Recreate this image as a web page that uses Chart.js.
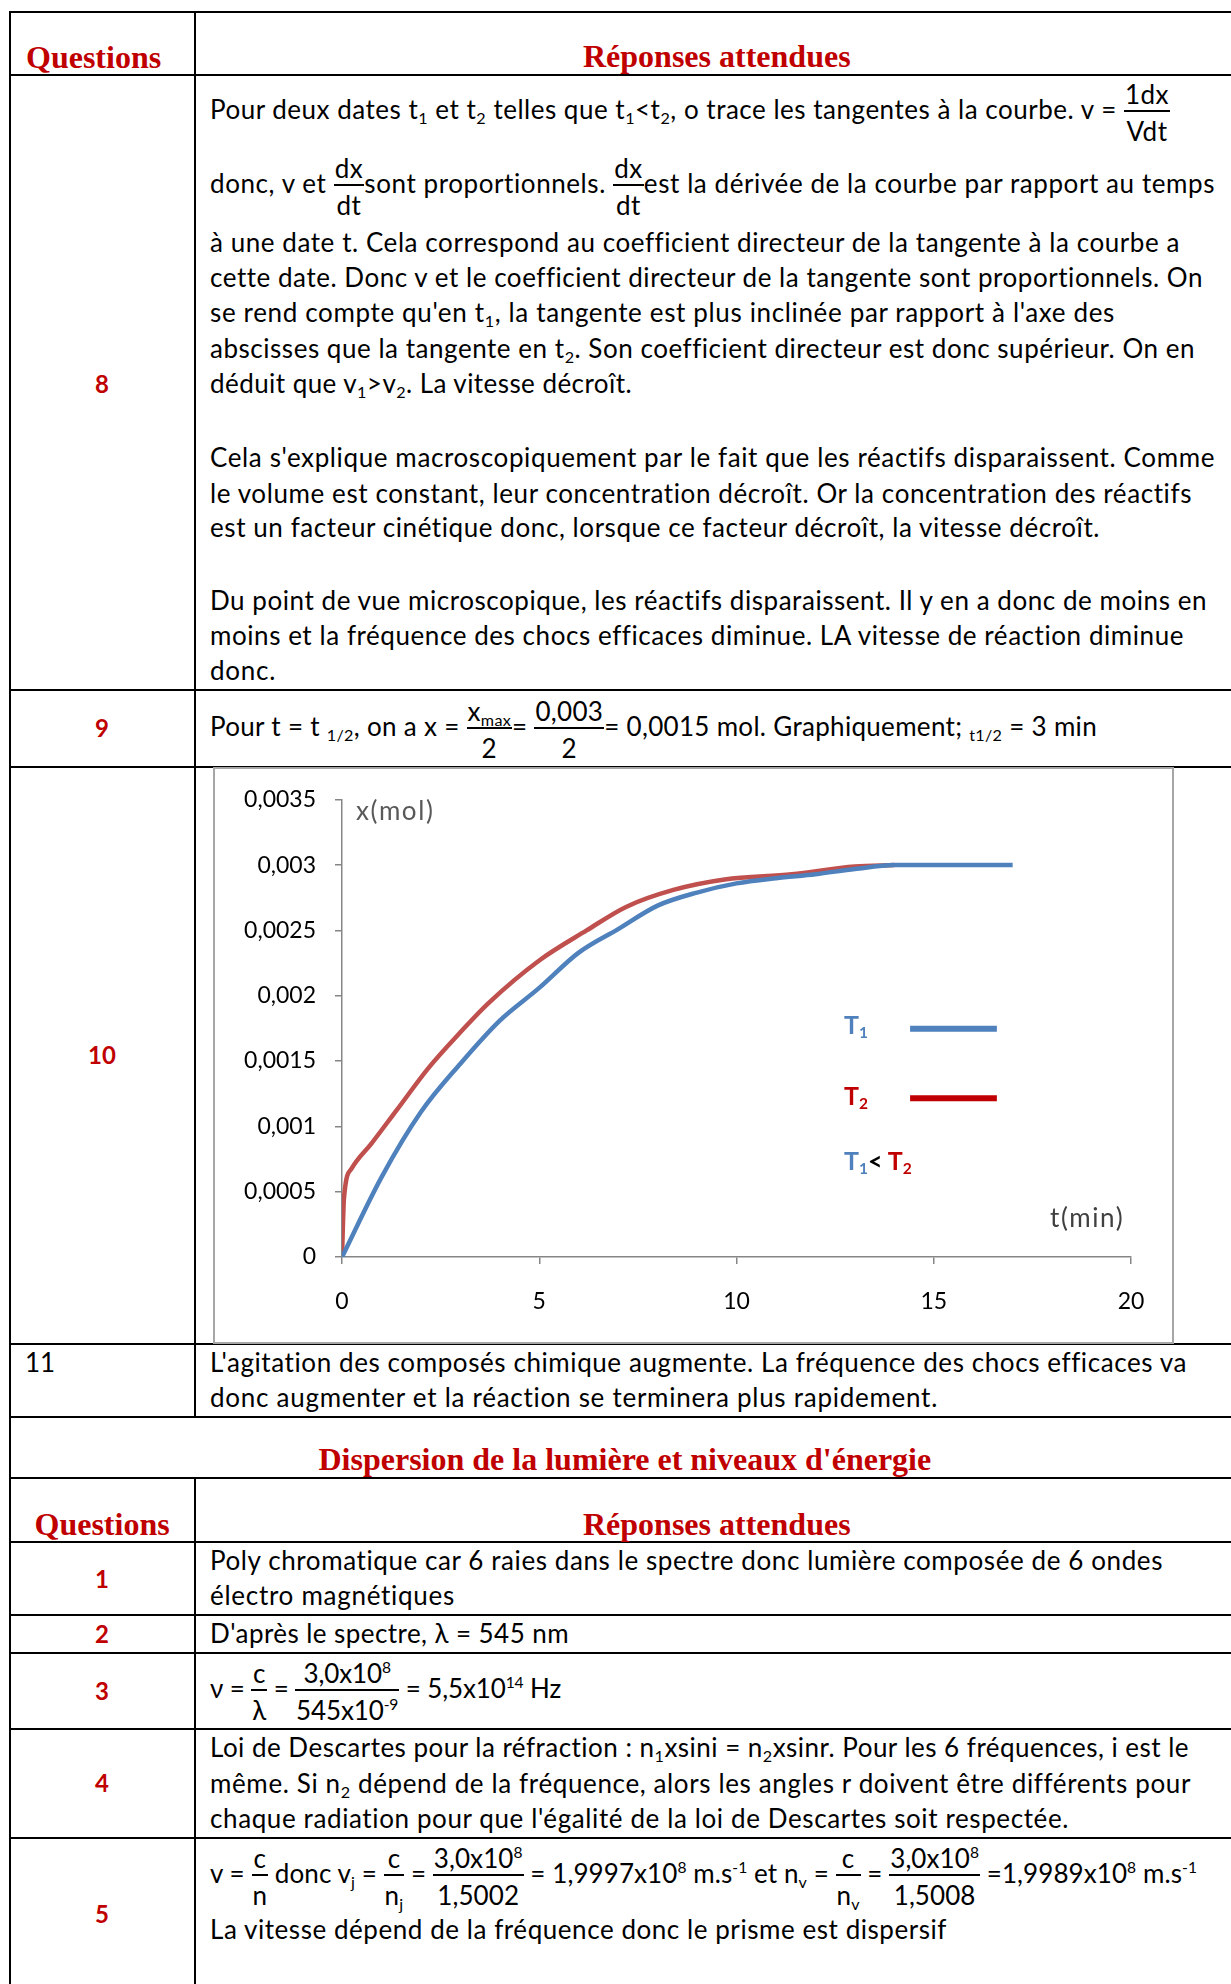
<!DOCTYPE html>
<html><head><meta charset="utf-8">
<script src="https://cdn.jsdelivr.net/npm/chart.js@4.4.0/dist/chart.umd.min.js"></script>
<style>
html,body{margin:0;padding:0;background:#fff;}
#page{position:relative;width:1231px;height:1984px;overflow:hidden;background:#fff;font-family:Lato,"Open Sans",sans-serif;color:#000;}
.h{position:absolute;height:2px;background:#000;left:9px;width:1240px}
.v{position:absolute;width:2px;background:#000}
.ln{position:absolute;white-space:nowrap;font-size:26px;line-height:32px;left:210px}
.hd{position:absolute;white-space:nowrap;font-family:"Liberation Serif","DejaVu Serif",serif;font-weight:bold;font-size:32px;line-height:36px;color:#C00000}
.qn{position:absolute;white-space:nowrap;font-size:24px;line-height:30px;font-weight:bold;color:#C00000}
.sb{font-size:0.62em;vertical-align:-0.28em;line-height:0}
.sp{font-size:0.6em;vertical-align:0.62em;line-height:0}
.fr{display:inline-flex;flex-direction:column;align-items:center;vertical-align:middle;margin:-40px 0;}
.fr .n{line-height:32px;padding:0 1px}
.fr .bar{align-self:stretch;height:1.5px;background:#000}
.fr .d{line-height:32px;padding:3px 1px 0 1px}
.bm{display:inline-block;width:0;height:0;vertical-align:baseline}
#frame{position:absolute;left:213px;top:767px;width:961px;height:577px;border:2px solid #a6a6a6;box-sizing:border-box;pointer-events:none}
#cv{position:absolute;left:213px;top:767px}
.ct{position:absolute;white-space:nowrap;font-size:26px;line-height:30px;letter-spacing:1.6px;color:#404040}
.lg{position:absolute;white-space:nowrap;font-size:25px;line-height:30px;font-weight:bold}
</style>
</head>
<body>
<div id="page">
  <!-- table borders -->
  <div class="h" style="top:11px"></div>
  <div class="h" style="top:74px"></div>
  <div class="h" style="top:689px"></div>
  <div class="h" style="top:766px"></div>
  <div class="h" style="top:1343px"></div>
  <div class="h" style="top:1416px"></div>
  <div class="h" style="top:1477px"></div>
  <div class="h" style="top:1541px"></div>
  <div class="h" style="top:1614px"></div>
  <div class="h" style="top:1652px"></div>
  <div class="h" style="top:1728px"></div>
  <div class="h" style="top:1837px"></div>
  <div class="v" style="left:9px;top:11px;height:1980px"></div>
  <div class="v" style="left:194px;top:11px;height:1406px"></div>
  <div class="v" style="left:194px;top:1477px;height:510px"></div>

  <!-- headers -->
  <div class="hd" data-b="68" style="left:26px">Questions</div>
  <div class="hd" data-b="67" data-c="717">Réponses attendues</div>
  <div class="hd" data-b="1470" data-c="625">Dispersion de la lumière et niveaux d'énergie</div>
  <div class="hd" data-b="1535" data-c="102">Questions</div>
  <div class="hd" data-b="1535" data-c="717">Réponses attendues</div>

  <!-- question numbers -->
  <div class="qn" data-b="393" data-c="102">8</div>
  <div class="qn" data-b="737" data-c="102">9</div>
  <div class="qn" data-b="1064" data-c="102">10</div>
  <div class="ln" data-b="1372" style="left:25px">11</div>
  <div class="qn" data-b="1588" data-c="102">1</div>
  <div class="qn" data-b="1643" data-c="102">2</div>
  <div class="qn" data-b="1700" data-c="102">3</div>
  <div class="qn" data-b="1792" data-c="102">4</div>
  <div class="qn" data-b="1923" data-c="102">5</div>

  <!-- row 8 -->
  <div class="ln" data-b="119" data-r="1170">Pour deux dates t<span class="sb">1</span> et t<span class="sb">2</span> telles que t<span class="sb">1</span>&lt;t<span class="sb">2</span>, o trace les tangentes à la courbe. v = <span class="fr"><span class="n">1dx</span><span class="bar"></span><span class="d">Vdt</span></span></div>
  <div class="ln" data-b="193" data-r="1215">donc, v et <span class="fr"><span class="n">dx</span><span class="bar"></span><span class="d">dt</span></span>sont proportionnels. <span class="fr"><span class="n">dx</span><span class="bar"></span><span class="d">dt</span></span>est la dérivée de la courbe par rapport au temps</div>
  <div class="ln" data-b="252" data-r="1180">à une date t. Cela correspond au coefficient directeur de la tangente à la courbe a</div>
  <div class="ln" data-b="287" data-r="1203">cette date. Donc v et le coefficient directeur de la tangente sont proportionnels. On</div>
  <div class="ln" data-b="322" data-r="1115">se rend compte qu'en t<span class="sb">1</span>, la tangente est plus inclinée par rapport à l'axe des</div>
  <div class="ln" data-b="358" data-r="1195">abscisses que la tangente en t<span class="sb">2</span>. Son coefficient directeur est donc supérieur. On en</div>
  <div class="ln" data-b="393" data-r="632">déduit que v<span class="sb">1</span>&gt;v<span class="sb">2</span>. La vitesse décroît.</div>
  <div class="ln" data-b="467" data-r="1215">Cela s'explique macroscopiquement par le fait que les réactifs disparaissent. Comme</div>
  <div class="ln" data-b="503" data-r="1192">le volume est constant, leur concentration décroît. Or la concentration des réactifs</div>
  <div class="ln" data-b="537" data-r="1100">est un facteur cinétique donc, lorsque ce facteur décroît, la vitesse décroît.</div>
  <div class="ln" data-b="610" data-r="1207">Du point de vue microscopique, les réactifs disparaissent. Il y en a donc de moins en</div>
  <div class="ln" data-b="645" data-r="1184">moins et la fréquence des chocs efficaces diminue. LA vitesse de réaction diminue</div>
  <div class="ln" data-b="680" data-r="276">donc.</div>

  <!-- row 9 -->
  <div class="ln" data-b="736" data-r="1097">Pour t = t <span class="sb">1/2</span>, on a x = <span class="fr"><span class="n">x<span class="sb">max</span></span><span class="bar"></span><span class="d">2</span></span>= <span class="fr"><span class="n">0,003</span><span class="bar"></span><span class="d">2</span></span>= 0,0015 mol. Graphiquement; <span class="sb">t1/2</span> = 3 min</div>

  <!-- row 11 -->
  <div class="ln" data-b="1372" data-r="1187">L'agitation des composés chimique augmente. La fréquence des chocs efficaces va</div>
  <div class="ln" data-b="1407" data-r="938">donc augmenter et la réaction se terminera plus rapidement.</div>

  <!-- dispersion rows -->
  <div class="ln" data-b="1570" data-r="1163">Poly chromatique car 6 raies dans le spectre donc lumière composée de 6 ondes</div>
  <div class="ln" data-b="1605" data-r="455">électro magnétiques</div>
  <div class="ln" data-b="1643" data-r="569">D'après le spectre, λ = 545 nm</div>
  <div class="ln" data-b="1698" data-r="561">ν = <span class="fr"><span class="n">c</span><span class="bar"></span><span class="d">λ</span></span> = <span class="fr"><span class="n">3,0x10<span class="sp">8</span></span><span class="bar"></span><span class="d">545x10<span class="sp">-9</span></span></span> = 5,5x10<span class="sp">14</span> Hz</div>
  <div class="ln" data-b="1757" data-r="1189">Loi de Descartes pour la réfraction : n<span class="sb">1</span>xsini = n<span class="sb">2</span>xsinr. Pour les 6 fréquences, i est le</div>
  <div class="ln" data-b="1793" data-r="1191">même. Si n<span class="sb">2</span> dépend de la fréquence, alors les angles r doivent être différents pour</div>
  <div class="ln" data-b="1828" data-r="1069">chaque radiation pour que l'égalité de la loi de Descartes soit respectée.</div>
  <div class="ln" data-b="1883" data-r="1197">v = <span class="fr"><span class="n">c</span><span class="bar"></span><span class="d">n</span></span> donc v<span class="sb">j</span> = <span class="fr"><span class="n">c</span><span class="bar"></span><span class="d">n<span class="sb">j</span></span></span> = <span class="fr"><span class="n">3,0x10<span class="sp">8</span></span><span class="bar"></span><span class="d">1,5002</span></span> = 1,9997x10<span class="sp">8</span> m.s<span class="sp">-1</span> et n<span class="sb">v</span> = <span class="fr"><span class="n">c</span><span class="bar"></span><span class="d">n<span class="sb">v</span></span></span> = <span class="fr"><span class="n">3,0x10<span class="sp">8</span></span><span class="bar"></span><span class="d">1,5008</span></span> =1,9989x10<span class="sp">8</span> m.s<span class="sp">-1</span></div>
  <div class="ln" data-b="1939" data-r="947">La vitesse dépend de la fréquence donc le prisme est dispersif</div>

  <!-- chart -->
  <canvas id="cv" width="961" height="577"></canvas>
  <div id="frame"></div>
  <div class="ct" data-b="820" style="left:356px;color:#595959">x(mol)</div>
  <div class="ct" data-b="1227" style="left:1050px">t(min)</div>
  <div class="lg" data-b="1034" style="left:844px;color:#4F81BD">T<span class="sb">1</span></div>
  <div class="lg" data-b="1105" style="left:844px;color:#C00000">T<span class="sb">2</span></div>
  <div class="lg" data-b="1170" style="left:844px"><span style="color:#4F81BD">T<span class="sb">1</span></span>&lt; <span style="color:#C00000">T<span class="sb">2</span></span></div>
</div>

<script>
// ---- chart data ----
const tT1 = [0, 1, 2, 3, 4, 5, 6, 7, 8, 9, 10, 11, 12, 13, 14, 15, 16, 17];
const xT1 = [0, 0.00061, 0.00111, 0.00148, 0.00181, 0.00206, 0.00233, 0.00251, 0.00269, 0.00279, 0.00286, 0.0029, 0.00293, 0.00297, 0.003, 0.003, 0.003, 0.003];
const tT2 = [0, 0.05, 0.25, 0.75, 1.4, 2.2, 3, 3.7, 5, 6.2, 7.2, 8.4, 9.7, 11.4, 13, 14];
const xT2 = [0, 0.00045, 0.00068, 0.00087, 0.00113, 0.00145, 0.00172, 0.00194, 0.00227, 0.0025, 0.00268, 0.00281, 0.00289, 0.00293, 0.00299, 0.003];
const yTickLabels = ['0', '0,0005', '0,001', '0,0015', '0,002', '0,0025', '0,003', '0,0035'];
const xTickLabels = ['0', '5', '10', '15', '20'];
const seriesNames = ['T1', 'T2'];

function fitLines() {
  document.querySelectorAll('.ln[data-r]').forEach(el => {
    const target = parseFloat(el.dataset.r);
    const n = el.textContent.length;
    for (let k = 0; k < 3; k++) {
      const r = el.getBoundingClientRect();
      const cur = parseFloat(el.style.letterSpacing) || 0;
      el.style.letterSpacing = (cur + (target - r.right) / n) + 'px';
    }
  });
}

function layoutText() {
  document.querySelectorAll('[data-b]').forEach(el => {
    const m = document.createElement('span');
    m.className = 'bm';
    el.insertBefore(m, el.firstChild);
    el.style.top = '0px';
    const off = m.getBoundingClientRect().top - el.getBoundingClientRect().top;
    el.style.top = (parseFloat(el.dataset.b) - off) + 'px';
    m.remove();
    if (el.dataset.c) {
      el.style.left = (parseFloat(el.dataset.c) - el.offsetWidth / 2) + 'px';
    }
  });
}

const legendLines = {
  id: 'legendLines',
  afterDraw(chart) {
    const a = chart.chartArea, ctx = chart.ctx;
    const w = a.right - a.left, h = a.bottom - a.top;
    const items = [[0.501, '#4F81BD'], [0.653, '#C00000']];
    ctx.save();
    ctx.lineWidth = 6;
    items.forEach(([fy, col]) => {
      ctx.strokeStyle = col;
      ctx.beginPath();
      ctx.moveTo(a.left + 0.72 * w, a.top + fy * h);
      ctx.lineTo(a.left + 0.83 * w, a.top + fy * h);
      ctx.stroke();
    });
    ctx.restore();
  }
};

function makeChart() {
  Chart.defaults.font.family = 'Lato';
  const axisCol = '#868686';
  new Chart(document.getElementById('cv'), {
    type: 'line',
    data: {
      datasets: [
        { label: seriesNames[0], data: tT1.map((t, i) => ({ x: t, y: xT1[i] })), borderColor: '#4F81BD', borderWidth: 4.5, pointRadius: 0, cubicInterpolationMode: 'monotone', fill: false },
        { label: seriesNames[1], data: tT2.map((t, i) => ({ x: t, y: xT2[i] })), borderColor: '#C0504D', borderWidth: 4.5, pointRadius: 0, cubicInterpolationMode: 'monotone', fill: false }
      ]
    },
    options: {
      responsive: false,
      animation: false,
      devicePixelRatio: 1,
      layout: { padding: { left: 0, top: 29, right: 43, bottom: 0 } },
      plugins: { legend: { display: false }, tooltip: { enabled: false } },
      scales: {
        x: {
          type: 'linear', min: 0, max: 20,
          afterFit(s) { s.height = 87; },
          grid: { drawOnChartArea: false, drawTicks: true, tickLength: 7, color: axisCol, lineWidth: 1.5 },
          border: { display: true, color: axisCol, width: 1.5 },
          ticks: { stepSize: 5, padding: 24, color: '#000', font: { size: 23 }, maxRotation: 0,
            callback: (v) => xTickLabels[Math.round(v / 5)] }
        },
        y: {
          type: 'linear', min: 0, max: 0.0035,
          afterFit(s) { s.width = 129; },
          grid: { drawOnChartArea: false, drawTicks: true, tickLength: 7, color: axisCol, lineWidth: 1.5 },
          border: { display: true, color: axisCol, width: 1.5 },
          ticks: { stepSize: 0.0005, padding: 19, color: '#000', font: { size: 23 },
            callback: (v) => yTickLabels[Math.round(v / 0.0005)] }
        }
      }
    },
    plugins: [legendLines]
  });
}

(document.fonts ? Promise.all([document.fonts.load('26px Lato'), document.fonts.load('bold 24px Lato'), document.fonts.load('bold 32px "Liberation Serif"')]).catch(() => {}) : Promise.resolve())
  .then(() => { fitLines(); layoutText(); makeChart(); });
</script>
</body></html>
